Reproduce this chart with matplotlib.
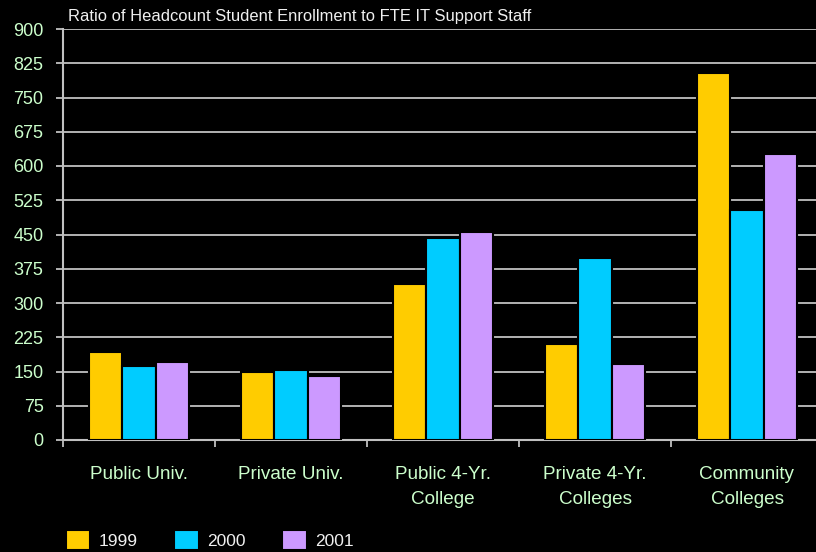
import numpy as np
import matplotlib
matplotlib.use("Agg")
import matplotlib.pyplot as plt

categories = ["Public Univ.", "Private Univ.", "Public 4-Yr.\nCollege",
              "Private 4-Yr.\nColleges", "Community\nColleges"]
years = ["1999", "2000", "2001"]
ratio_1999 = [193, 149, 342, 210, 803]
ratio_2000 = [162, 153, 442, 398, 504]
ratio_2001 = [171, 140, 455, 166, 626]
y_ticks = [0, 75, 150, 225, 300, 375, 450, 525, 600, 675, 750, 825, 900]

COLORS = ["#FFCC00", "#00CCFF", "#CC99FF"]
GRID = "#C0C0C0"
LABEL_GREEN = "#CCFFCC"

plt.rcParams["font.family"] = ["Liberation Sans", "DejaVu Sans"]

W, H = 816, 552
fig = plt.figure(figsize=(W / 100, H / 100), dpi=100, facecolor="black")
# axes runs a bit past the right edge, like the cropped original
ax = fig.add_axes([63 / W, 1 - 440 / H, 760 / W, 411 / H], facecolor="black")

x = np.arange(len(categories))
bar_w = 0.22
series = [ratio_1999, ratio_2000, ratio_2001]
for i, (vals, year) in enumerate(zip(series, years)):
    ax.bar(x + (i - 1) * bar_w, vals, bar_w, color=COLORS[i], label=year,
           edgecolor="black", linewidth=1.5, zorder=3)

ax.set_ylim(0, 900)
ax.set_xlim(-0.5, len(categories) - 0.5)
ax.set_yticks(y_ticks)
ax.yaxis.grid(True, color=GRID, linewidth=1.3, zorder=1)
ax.set_axisbelow(True)

# major ticks on category boundaries, labels on minor ticks at centres
ax.set_xticks(np.arange(len(categories) + 1) - 0.5)
ax.set_xticklabels([])
ax.set_xticks(x, minor=True)
ax.set_xticklabels(categories, minor=True, fontsize=13.6, color=LABEL_GREEN,
                   linespacing=1.6)
ax.tick_params(axis="x", which="minor", length=0, pad=19)
ax.tick_params(axis="x", which="major", direction="out", length=5,
               color=GRID, width=1.3)
ax.tick_params(axis="y", direction="out", length=5, color=GRID, width=1.3,
               labelsize=13, labelcolor=LABEL_GREEN, pad=9)

for side in ["top", "right"]:
    ax.spines[side].set_visible(False)
for side in ["left", "bottom"]:
    ax.spines[side].set_color(GRID)
    ax.spines[side].set_linewidth(1.5)

fig.text(68 / W, 1 - 21 / H, "Ratio of Headcount Student Enrollment to FTE IT Support Staff",
         fontsize=11.9, color="#F0F0F0", va="baseline", ha="left")

fig.legend(loc="upper left", bbox_to_anchor=(66 / W, 1 - 530 / H), ncol=3,
           frameon=False, fontsize=12.5, labelcolor="#F0F0F0",
           borderpad=0, borderaxespad=0, handlelength=1.4, handleheight=1.4,
           handletextpad=0.5, columnspacing=2.1)

fig.savefig("out.png", dpi=100, facecolor="black")
